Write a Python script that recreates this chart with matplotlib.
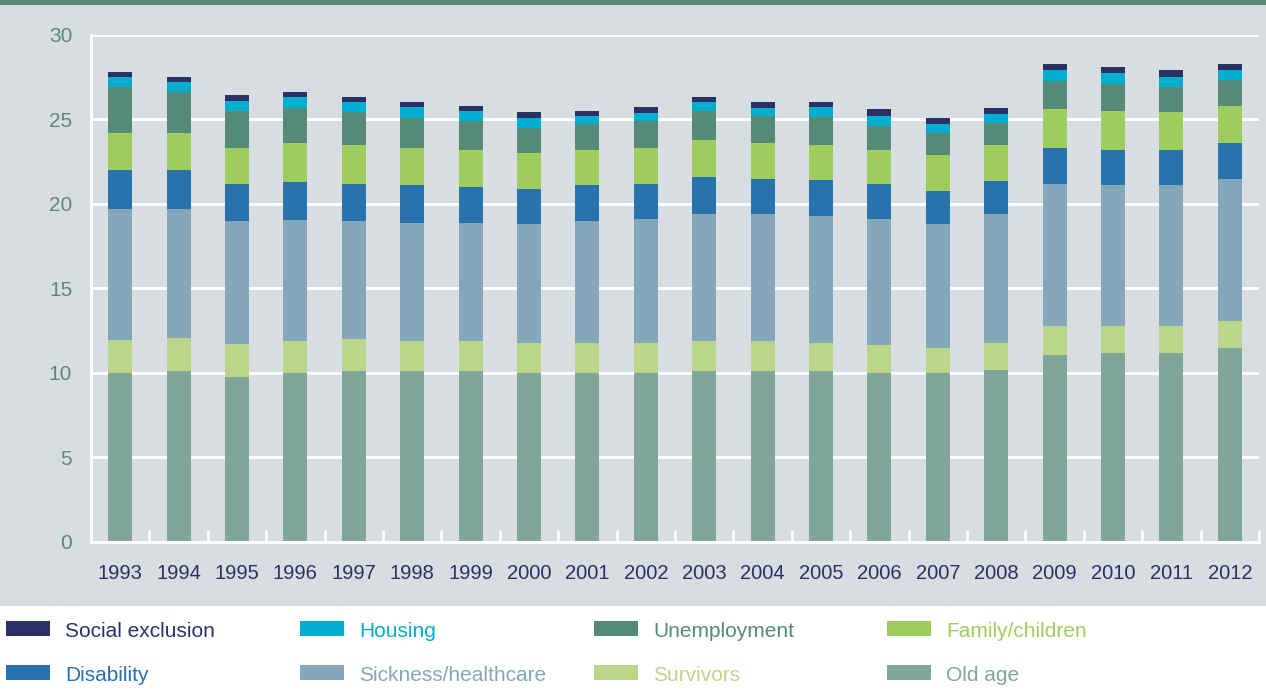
import matplotlib
matplotlib.use("Agg")
import matplotlib.pyplot as plt
from matplotlib.patches import Rectangle
import numpy as np

years = ["1993", "1994", "1995", "1996", "1997", "1998", "1999", "2000", "2001", "2002",
         "2003", "2004", "2005", "2006", "2007", "2008", "2009", "2010", "2011", "2012"]

old_age = [10.00, 10.12, 9.76, 10.00, 10.12, 10.12, 10.12, 10.00, 10.00, 10.00,
           10.12, 10.12, 10.12, 10.00, 10.00, 10.18, 11.07, 11.18, 11.18, 11.48]
survivors = [1.95, 1.95, 1.96, 1.89, 1.89, 1.77, 1.77, 1.78, 1.78, 1.78,
             1.77, 1.77, 1.66, 1.66, 1.48, 1.60, 1.71, 1.60, 1.60, 1.60]
sickness = [7.75, 7.63, 7.27, 7.16, 6.98, 6.99, 6.99, 7.04, 7.21, 7.33,
            7.52, 7.52, 7.51, 7.45, 7.34, 7.63, 8.40, 8.34, 8.34, 8.40]
disability = [2.31, 2.31, 2.19, 2.25, 2.19, 2.24, 2.12, 2.07, 2.13, 2.07,
              2.19, 2.07, 2.13, 2.07, 1.95, 1.95, 2.13, 2.08, 2.08, 2.13]
family = [2.19, 2.19, 2.13, 2.31, 2.31, 2.19, 2.20, 2.13, 2.08, 2.13,
          2.19, 2.13, 2.07, 2.02, 2.13, 2.13, 2.31, 2.30, 2.24, 2.19]
unemployment = [2.72, 2.43, 2.19, 2.07, 1.95, 1.78, 1.71, 1.48, 1.53, 1.60,
                1.71, 1.60, 1.66, 1.42, 1.30, 1.30, 1.66, 1.60, 1.48, 1.54]
housing = [0.59, 0.59, 0.59, 0.65, 0.59, 0.65, 0.59, 0.59, 0.48, 0.47,
           0.54, 0.47, 0.59, 0.59, 0.53, 0.54, 0.65, 0.65, 0.59, 0.59]
social_exclusion = [0.30, 0.29, 0.36, 0.30, 0.29, 0.30, 0.30, 0.35, 0.29, 0.36,
                    0.29, 0.36, 0.30, 0.41, 0.36, 0.35, 0.35, 0.36, 0.42, 0.35]

series_names = ["Old age", "Survivors", "Sickness/healthcare", "Disability",
                "Family/children", "Unemployment", "Housing", "Social exclusion"]
series_values = [old_age, survivors, sickness, disability, family, unemployment,
                 housing, social_exclusion]
series_colors = ["#80a69a", "#bcd689", "#84a7b9", "#2872ae",
                 "#9ecd5e", "#548a76", "#00afd0", "#2b3066"]

legend_order = ["Social exclusion", "Housing", "Unemployment", "Family/children",
                "Disability", "Sickness/healthcare", "Survivors", "Old age"]

W, H = 1266, 692
fig = plt.figure(figsize=(W / 100, H / 100), dpi=100, facecolor="white")

bg = "#d7dde1"
fig.patches.append(Rectangle((0, (H - 606) / H), 1, (606 - 5) / H,
                             transform=fig.transFigure, facecolor=bg,
                             edgecolor="none", zorder=-10))
fig.patches.append(Rectangle((0, (H - 5) / H), 1, 5 / H,
                             transform=fig.transFigure, facecolor="#548a76",
                             edgecolor="none", zorder=-10))

ax = fig.add_axes([91 / W, (H - 541.5) / H, (1259 - 91) / W, (541.5 - 35) / H])
ax.set_facecolor("none")

x = np.arange(len(years))
bottom = np.zeros(len(years))
for name, vals, col in zip(series_names, series_values, series_colors):
    v = np.array(vals)
    ax.bar(x, v, bottom=bottom, width=0.41, color=col, edgecolor="none",
           label=name, zorder=3)
    bottom += v

ax.set_xlim(-0.5, len(years) - 0.5)
ax.set_ylim(0, 30)
ax.set_yticks(np.arange(0, 31, 5))
ax.yaxis.grid(True, color="white", linewidth=2.2, zorder=1)
ax.set_axisbelow(True)

for s in ["top", "right"]:
    ax.spines[s].set_visible(False)
for s in ["left", "bottom"]:
    ax.spines[s].set_color("white")
    ax.spines[s].set_linewidth(2.2)
    ax.spines[s].set_zorder(4)

num_font = ["Liberation Sans", "DejaVu Sans"]
ax.set_xticks(x)
ax.set_xticklabels(years, fontsize=14.5, color="#2b3066", family=num_font)
ax.set_xticks(np.arange(-0.5, len(years), 1.0), minor=True)
ax.tick_params(axis="x", which="major", length=0, pad=16)
ax.tick_params(axis="x", which="minor", direction="in", length=9, width=2,
               color="white")
ax.tick_params(axis="y", length=0, pad=13.5, labelsize=15, labelcolor="#5a8a78")
for lab in ax.get_yticklabels():
    lab.set_family(num_font)

# legend
leg_font = ["Liberation Sans", "DejaVu Sans"]
col_patch_x = [6, 300, 594, 887]
row_y = [621, 665]
baseline_y = [637, 681]
lookup = {n: c for n, c in zip(series_names, series_colors)}
for i, name in enumerate(legend_order):
    r, c = divmod(i, 4)
    px = col_patch_x[c]
    py = row_y[r]
    fig.patches.append(Rectangle((px / W, (H - py - 15) / H), 44 / W, 15 / H,
                                 transform=fig.transFigure,
                                 facecolor=lookup[name], edgecolor="none"))
    fig.text((px + 59) / W, (H - baseline_y[r]) / H, name, color=lookup[name],
             fontsize=15, family=leg_font, va="baseline", ha="left")

fig.savefig("out.png", dpi=100, facecolor=fig.get_facecolor())
